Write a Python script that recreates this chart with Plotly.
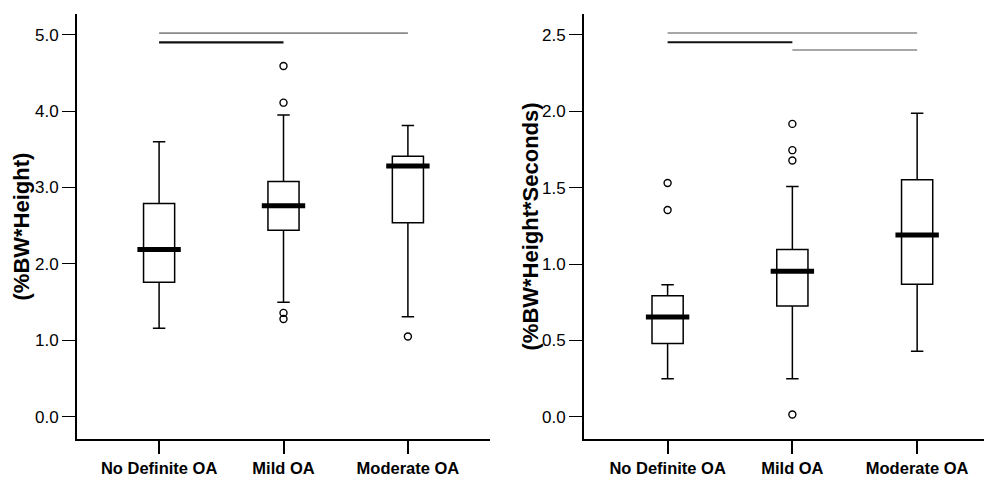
import plotly.graph_objects as go

categories = ["No Definite OA", "Mild OA", "Moderate OA"]

# Left panel: (%BW*Height)
left_lower = [1.16, 1.50, 1.31]
left_q1 = [1.76, 2.44, 2.54]
left_median = [2.19, 2.76, 3.28]
left_q3 = [2.79, 3.08, 3.41]
left_upper = [3.60, 3.95, 3.81]
left_out_cat = ["Mild OA", "Mild OA", "Mild OA", "Mild OA", "Moderate OA"]
left_out_val = [4.59, 4.11, 1.36, 1.28, 1.05]
left_sig_start = ["No Definite OA", "No Definite OA"]
left_sig_end = ["Moderate OA", "Mild OA"]
left_sig_y = [5.02, 4.90]

# Right panel: (%BW*Height*Seconds)
right_lower = [0.25, 0.25, 0.43]
right_q1 = [0.48, 0.725, 0.867]
right_median = [0.654, 0.952, 1.19]
right_q3 = [0.793, 1.095, 1.551]
right_upper = [0.865, 1.507, 1.987]
right_out_cat = ["No Definite OA", "No Definite OA", "Mild OA", "Mild OA", "Mild OA", "Mild OA"]
right_out_val = [1.53, 1.353, 1.917, 1.745, 1.677, 0.015]
right_sig_start = ["No Definite OA", "No Definite OA", "Mild OA"]
right_sig_end = ["Moderate OA", "Mild OA", "Moderate OA"]
right_sig_y = [2.512, 2.451, 2.40]

left_ticks = [0.0, 1.0, 2.0, 3.0, 4.0, 5.0]
right_ticks = [0.0, 0.5, 1.0, 1.5, 2.0, 2.5]

# The page body has an 8px margin, so the figure is sized to fit the rest.
W, H = 984, 473
FONT = "Liberation Sans, Arial, sans-serif"

fig = go.Figure()

panels = [
    ("x", "y", left_lower, left_q1, left_median, left_q3, left_upper,
     left_out_cat, left_out_val, left_sig_start, left_sig_end, left_sig_y),
    ("x2", "y2", right_lower, right_q1, right_median, right_q3, right_upper,
     right_out_cat, right_out_val, right_sig_start, right_sig_end, right_sig_y),
]

sig_styles = [dict(color="#8a8a8a", width=1.6), dict(color="#111111", width=2.2), dict(color="#8a8a8a", width=1.6)]

for xa, ya, lo, q1, med, q3, up, oc, ov, ss, se, sy in panels:
    fig.add_trace(go.Box(
        x=categories, q1=q1, median=med, q3=q3, lowerfence=lo, upperfence=up,
        xaxis=xa, yaxis=ya, width=0.25, whiskerwidth=0.4,
        fillcolor="white", line=dict(color="black", width=1.5),
        boxpoints=False, showlegend=False, hoverinfo="skip",
    ))
    fig.add_trace(go.Scatter(
        x=categories, y=med, xaxis=xa, yaxis=ya, mode="markers",
        marker=dict(symbol="line-ew-open", size=31, color="black",
                    line=dict(color="black", width=5)),
        showlegend=False, hoverinfo="skip",
    ))
    fig.add_trace(go.Scatter(
        x=oc, y=ov, xaxis=xa, yaxis=ya, mode="markers",
        marker=dict(symbol="circle-open", size=7, color="black", line=dict(color="black", width=1.4)),
        showlegend=False, hoverinfo="skip",
    ))
    for i in range(len(sy)):
        fig.add_trace(go.Scatter(
            x=[ss[i], se[i]], y=[sy[i], sy[i]], xaxis=xa, yaxis=ya, mode="lines",
            line=sig_styles[i], showlegend=False, hoverinfo="skip",
        ))

axis_common = dict(
    showline=True, linecolor="black", linewidth=2, showgrid=False, zeroline=False,
    ticks="outside", tickcolor="black",
)
xtickfont = dict(family=FONT, size=16.5, color="black", weight="bold")
ytickfont = dict(family=FONT, size=17, color="black")

fig.update_layout(
    width=W, height=H,
    margin=dict(l=0, r=0, t=6, b=42),
    paper_bgcolor="white", plot_bgcolor="white",
    font=dict(family=FONT, size=16, color="black"),
    xaxis=dict(axis_common, domain=[69 / W, 482 / W], type="category",
               categoryorder="array", categoryarray=categories,
               range=[-0.66, 2.66], ticklen=13, tickwidth=1.5,
               tickfont=xtickfont, anchor="y"),
    yaxis=dict(axis_common, range=[-0.29, 5.27], tickvals=left_ticks,
               tickformat=".1f", ticklen=13, tickwidth=1,
               tickfont=ytickfont, anchor="x"),
    xaxis2=dict(axis_common, domain=[576 / W, 1.0], type="category",
                categoryorder="array", categoryarray=categories,
                range=[-0.67, 2.6], ticklen=13, tickwidth=1.5,
                tickfont=xtickfont, anchor="y2"),
    yaxis2=dict(axis_common, range=[-0.145, 2.636], tickvals=right_ticks,
                tickformat=".1f", ticklen=13, tickwidth=1,
                tickfont=ytickfont, anchor="x2"),
    annotations=[
        dict(text="<b>(%BW*Height)</b>", xref="paper", yref="paper",
             x=13 / W, y=0.5, textangle=-90,
             showarrow=False, font=dict(family=FONT, size=22, color="black"),
             xanchor="center", yanchor="middle"),
        dict(text="<b>(%BW*Height*Seconds)</b>", xref="paper", yref="paper",
             x=522 / W, y=0.5, textangle=-90,
             showarrow=False, font=dict(family=FONT, size=22, color="black"),
             xanchor="center", yanchor="middle"),
    ],
)

fig.write_html("out.html")
